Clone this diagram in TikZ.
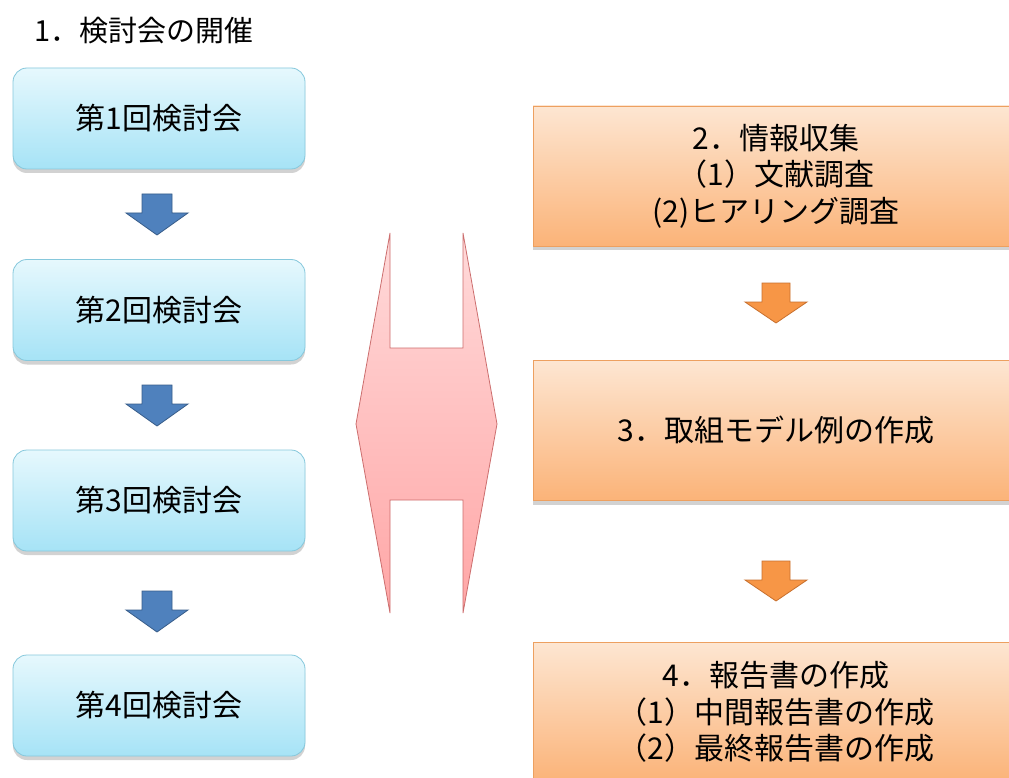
\documentclass[tikz,border=0pt]{standalone}
\usepackage{fontspec}
\setmainfont{Noto Sans CJK JP}
\usetikzlibrary{shadows}
\definecolor{ltop}{HTML}{E6F8FD}
\definecolor{lbot}{HTML}{A6E3F6}
\definecolor{lbord}{HTML}{86C8DC}
\definecolor{otop}{HTML}{FDE6D2}
\definecolor{obot}{HTML}{FBB378}
\definecolor{obord}{HTML}{EDA060}
\definecolor{barrow}{HTML}{4F81BD}
\definecolor{barrowd}{HTML}{385D8A}
\definecolor{oarrow}{HTML}{F79646}
\definecolor{oarrowd}{HTML}{C8702E}
\definecolor{ptop}{HTML}{FFDADA}
\definecolor{pbot}{HTML}{FFA6A6}
\definecolor{pbord}{HTML}{CC6E6E}
\begin{document}
\begin{tikzpicture}[x=1pt,y=-1pt,
  lbox/.style={draw=lbord, line width=0.8pt, rounded corners=14pt, top color=ltop, bottom color=lbot,
    minimum width=292pt, minimum height=101pt, font=\fontsize{30}{36}\selectfont,
    drop shadow={shadow xshift=0pt, shadow yshift=-4pt, opacity=0.25, fill=black!70}},
  rbox/.style={draw=obord, line width=0.8pt, top color=otop, bottom color=obot,
    minimum width=486pt, minimum height=140pt, align=center, font=\fontsize{30}{36.5}\selectfont,
    drop shadow={shadow xshift=0pt, shadow yshift=-4pt, opacity=0.25, fill=black!70}},
  barr/.style={fill=barrow, draw=barrowd, line width=0.8pt, line join=miter},
  oarr/.style={fill=oarrow, draw=oarrowd, line width=0.8pt, line join=miter},
  ttl/.style={font=\fontsize{29}{34}\selectfont, anchor=west, inner sep=0pt}
]
\useasboundingbox (0,0) rectangle (1009,778);
\clip (0,0) rectangle (1009,778);
\fill[white] (0,0) rectangle (1009,778);

\node[ttl] (title) at (34,31) {1．検討会の開催};

\node[lbox] (m1) at (159,118.5) {第1回検討会};
\node[lbox] (m2) at (159,310) {第2回検討会};
\node[lbox] (m3) at (159,500.5) {第3回検討会};
\node[lbox] (m4) at (159,705.5) {第4回検討会};

\node[rbox] (r2) at (776,176) {2．情報収集\\（1）文献調査\\(2)ヒアリング調査};
\node[rbox] (r3) at (776,430.5) {3．取組モデル例の作成};
\node[rbox] (r4) at (776,712) {4．報告書の作成\\（1）中間報告書の作成\\（2）最終報告書の作成};

% block arrows (down)
\coordinate (a1) at (157,194);
\coordinate (a2) at (157,385);
\coordinate (a3) at (157,591);
\coordinate (b1) at (776,283);
\coordinate (b2) at (776,561);
\foreach \c in {a1,a2,a3}{
  \draw[barr] ([xshift=-15pt]\c) -- ([xshift=15pt]\c) -- ([xshift=15pt,yshift=-19pt]\c)
    -- ([xshift=31pt,yshift=-19pt]\c) -- ([yshift=-41pt]\c) -- ([xshift=-31pt,yshift=-19pt]\c)
    -- ([xshift=-15pt,yshift=-19pt]\c) -- cycle;
}
\foreach \c in {b1,b2}{
  \draw[oarr] ([xshift=-14pt]\c) -- ([xshift=14pt]\c) -- ([xshift=14pt,yshift=-19pt]\c)
    -- ([xshift=31pt,yshift=-19pt]\c) -- ([yshift=-40pt]\c) -- ([xshift=-31pt,yshift=-19pt]\c)
    -- ([xshift=-14pt,yshift=-19pt]\c) -- cycle;
}

% pink double-headed H shape
\draw[draw=pbord, line width=0.8pt, top color=ptop, bottom color=pbot, line join=miter]
  (390,233) -- (390,348) -- (463,348) -- (463,233) -- (497,424) -- (463,613)
  -- (463,500) -- (390,500) -- (390,613) -- (356,424) -- cycle;
\end{tikzpicture}
\end{document}
